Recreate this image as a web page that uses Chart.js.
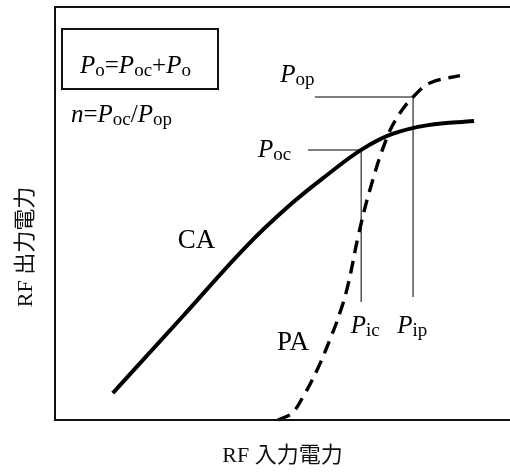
<!DOCTYPE html>
<html>
<head>
<meta charset="utf-8">
<script src="https://cdn.jsdelivr.net/npm/chart.js@4"></script>
<style>
  html, body { margin: 0; padding: 0; background: #fff; }
  #wrap { width: 510px; height: 473px; }
</style>
</head>
<body>
<div id="wrap"><canvas id="myChart" width="510" height="473"></canvas></div>
<script>
// input / output power, arbitrary units (0-100)
const inputCA = [12.7, 28, 42, 52, 60, 67.3, 74, 82, 92.1];
const outputCA = [6.5, 25.0, 42.0, 52.4, 59.5, 65.4, 69.2, 71.4, 72.4];
const inputPA = [49.0, 52.1, 54.5, 57.6, 60.4, 62.6, 64.4, 66.6, 69.2, 73.0, 75.8, 78.7, 82.4, 89.0];
const outputPA = [0, 1.7, 5.6, 12.1, 19.4, 25.9, 32.7, 44.3, 55.7, 68.5, 74.3, 78.2, 81.6, 83.4];

// operating points
const pIc = 67.3, pOc = 65.4;
const pIp = 78.7, pOp = 78.2;
const lineOc = [{x: 55.6, y: pOc}, {x: pIc, y: pOc}, {x: pIc, y: 28.6}];
const lineOp = [{x: 57.1, y: pOp}, {x: pIp, y: pOp}, {x: pIp, y: 29.8}];

const xTitle = "RF 入力電力";
const yTitle = "RF 出力電力";

const zip = (xs, ys) => xs.map((x, i) => ({x: x, y: ys[i]}));

const SERIF = "'Liberation Serif', 'Times New Roman', serif";
const CJK = "'Liberation Serif', 'Noto Sans CJK JP', sans-serif";

// draws text like P_oc : [text, style] with i = italic, r = roman, s = subscript
function richText(ctx, x, y, parts, size) {
    size = size || 25;
    ctx.textBaseline = "alphabetic";
    ctx.textAlign = "left";
    parts.forEach(p => {
        let dy = 0;
        if (p[1] == "i") ctx.font = "italic " + size + "px " + SERIF;
        else if (p[1] == "r") ctx.font = size + "px " + SERIF;
        else { ctx.font = Math.round(size * 0.76) + "px " + SERIF; dy = 3; }
        ctx.fillText(p[0], x, y + dy);
        x += ctx.measureText(p[0]).width;
    });
}

const labels = [
    {x: 49.5, y: 81.8, parts: [["P", "i"], ["op", "s"]]},
    {x: 44.6, y: 63.7, parts: [["P", "i"], ["oc", "s"]]},
    {x: 65.0, y: 21.1, parts: [["P", "i"], ["ic", "s"]]},
    {x: 75.2, y: 21.1, parts: [["P", "i"], ["ip", "s"]]},
    {x: 48.8, y: 16.9, parts: [["PA", "r"]], size: 27},
    {x: 27.0, y: 41.6, parts: [["CA", "r"]], size: 27}
];

const decor = {
    id: "decor",
    afterDraw(chart) {
        const ctx = chart.ctx;
        const a = chart.chartArea;
        const sx = chart.scales.x, sy = chart.scales.y;
        ctx.save();
        ctx.fillStyle = "#000";
        ctx.strokeStyle = "#111";
        ctx.lineWidth = 2;
        // frame: left, top, bottom
        ctx.beginPath();
        ctx.moveTo(a.right, a.top);
        ctx.lineTo(a.left, a.top);
        ctx.lineTo(a.left, a.bottom);
        ctx.lineTo(a.right, a.bottom);
        ctx.stroke();

        // formula box
        ctx.strokeRect(62, 29, 156, 60);
        richText(ctx, 80, 73, [["P", "i"], ["o", "s"], ["=", "r"], ["P", "i"], ["oc", "s"], ["+", "r"], ["P", "i"], ["o", "s"]]);
        richText(ctx, 71, 122, [["n", "i"], ["=", "r"], ["P", "i"], ["oc", "s"], ["/", "r"], ["P", "i"], ["op", "s"]]);

        labels.forEach(l => richText(ctx, sx.getPixelForValue(l.x), sy.getPixelForValue(l.y), l.parts, l.size));

        // axis titles
        ctx.font = "22px " + CJK;
        ctx.textAlign = "center";
        ctx.textBaseline = "middle";
        ctx.fillStyle = "#111";
        ctx.fillText(xTitle, (a.left + a.right) / 2, 456);
        ctx.translate(26, 247);
        ctx.rotate(-Math.PI / 2);
        ctx.fillText(yTitle, 0, 0);
        ctx.restore();
    }
};

const ctx = document.getElementById("myChart").getContext("2d");
let myChart = new Chart(ctx, {
    type: "line",
    data: {
        datasets: [
            {label: "CA", data: zip(inputCA, outputCA), borderColor: "#000", borderWidth: 4, tension: 0.4},
            {label: "PA", data: zip(inputPA, outputPA), borderColor: "#000", borderWidth: 3.4, borderDash: [13, 8], tension: 0.4},
            {label: "oc", data: lineOc, borderColor: "#555", borderWidth: 1.5, tension: 0},
            {label: "op", data: lineOp, borderColor: "#555", borderWidth: 1.5, tension: 0}
        ]
    },
    options: {
        responsive: false,
        animation: false,
        clip: false,
        layout: {padding: {left: 55, top: 7, right: 0, bottom: 53}},
        elements: {point: {radius: 0}},
        plugins: {legend: {display: false}, tooltip: {enabled: false}},
        scales: {
            x: {type: "linear", min: 0, max: 100, display: false},
            y: {type: "linear", min: 0, max: 100, display: false}
        }
    },
    plugins: [decor]
});
</script>
</body>
</html>
